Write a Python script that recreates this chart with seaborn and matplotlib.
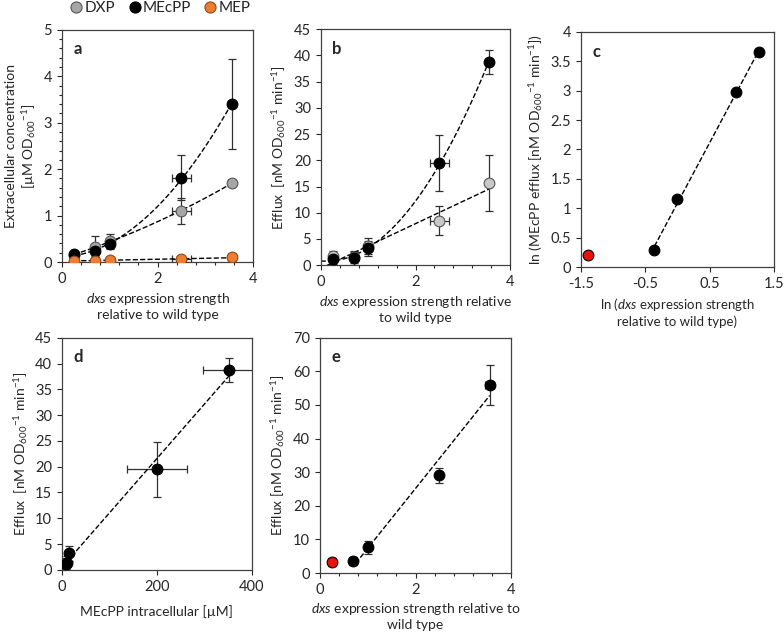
import numpy as np
import pandas as pd
import matplotlib
matplotlib.use("Agg")
import matplotlib.pyplot as plt
import seaborn as sns
from matplotlib.ticker import MultipleLocator
from matplotlib.lines import Line2D

# ---------------------------------------------------------------
# DATA
# ---------------------------------------------------------------
dxs = [0.25, 0.7, 1.0, 2.5, 3.55]
dxs_err = [0.0, 0.0, 0.0, 0.2, 0.07]

# panel a - extracellular concentration
conc_dxp = [0.15, 0.33, 0.45, 1.1, 1.7]
conc_dxp_err = [0.05, 0.22, 0.15, 0.28, 0.05]
conc_mecpp = [0.17, 0.23, 0.38, 1.82, 3.4]
conc_mecpp_err = [0.05, 0.1, 0.1, 0.48, 0.97]
conc_mep = [0.03, 0.03, 0.04, 0.06, 0.1]
conc_mep_err = [0.01, 0.01, 0.01, 0.01, 0.01]

# panel b - efflux
eff_dxp = [1.7, 1.5, 3.7, 8.5, 15.7]
eff_dxp_err = [1.1, 1.0, 1.5, 2.8, 5.4]
eff_mecpp = [1.23, 1.34, 3.2, 19.5, 38.8]
eff_mecpp_err = [1.0, 1.3, 1.5, 5.3, 2.3]

# panel d - intracellular MEcPP
intra_mecpp = [8, 10, 14, 200, 353]
intra_mecpp_err = [0, 0, 0, 63, 55]

# panel e - efflux (second data set)
eff2_x = [0.25, 0.7, 1.0, 2.5, 3.55]
eff2_y = [3.3, 3.6, 7.6, 29.1, 55.9]
eff2_err = [1.2, 1.3, 2.0, 2.2, 6.0]
eff2_xerr = [0.0, 0.0, 0.0, 0.0, 0.1]

series_names = ["DXP", "MEcPP", "MEP"]

GRAY = "#a6a6a6"
ORANGE = "#ed7d31"
RED = "#e8120c"

sns.set_style("ticks")
plt.rcParams["font.family"] = ["Lato", "DejaVu Sans"]
plt.rcParams["mathtext.fontset"] = "custom"
plt.rcParams["mathtext.rm"] = "Lato"
plt.rcParams["mathtext.it"] = "Lato:italic"
plt.rcParams["font.size"] = 10

fig = plt.figure(figsize=(7.84, 6.36), dpi=100)

UNIT = r"[nM OD$_{600}$$^{-1}$ min$^{-1}$]"
XLAB = r"$\it{dxs}$ expression strength"
LBL = 10


def style_ax(ax, letter, xminor=None, yminor=None):
    for s in ax.spines.values():
        s.set_visible(True)
        s.set_color("#404040")
        s.set_linewidth(0.9)
    ax.tick_params(which="major", direction="out", length=3.5, width=0.8, labelsize=10.5)
    ax.tick_params(which="minor", direction="out", length=2, width=0.8)
    if xminor:
        ax.xaxis.set_minor_locator(MultipleLocator(xminor))
    if yminor:
        ax.yaxis.set_minor_locator(MultipleLocator(yminor))
    ax.text(0.06, 0.95, letter, transform=ax.transAxes, fontsize=12,
            fontweight="bold", va="top", ha="left")


def points(ax, x, y, yerr, xerr, color, edge="black"):
    ax.errorbar(x, y, yerr=yerr, xerr=xerr, fmt="none", ecolor="#303030",
                elinewidth=0.9, capsize=3, capthick=0.9, zorder=2)
    df = pd.DataFrame({"x": x, "y": y})
    sns.scatterplot(data=df, x="x", y="y", ax=ax, color=color, edgecolor=edge,
                    linewidth=0.8, s=60, zorder=3, legend=False)


def poly_fit(ax, x, y, x0, x1, deg):
    coef = np.polyfit(x, y, deg)
    xs = np.linspace(x0, x1, 100)
    ax.plot(xs, np.polyval(coef, xs), ls="--", color="black", lw=1.0, zorder=2.5)


# ---------------------------------------------------------------
# PANEL A
# ---------------------------------------------------------------
ax = fig.add_axes([0.079, 0.588, 0.244, 0.365])
poly_fit(ax, dxs, conc_dxp, 0.25, 3.55, 2)
poly_fit(ax, dxs, conc_mecpp, 0.25, 3.55, 2)
poly_fit(ax, dxs, conc_mep, 0.25, 3.55, 1)
points(ax, dxs, conc_dxp, conc_dxp_err, dxs_err, GRAY, "#555555")
points(ax, dxs, conc_mecpp, conc_mecpp_err, dxs_err, "black")
points(ax, dxs, conc_mep, conc_mep_err, dxs_err, ORANGE, "#8a4a1a")
ax.set_xlim(0, 4)
ax.set_ylim(0, 5)
ax.set_xticks([0, 2, 4])
ax.set_yticks([0, 1, 2, 3, 4, 5])
ax.set_xlabel(XLAB + "\nrelative to wild type", fontsize=LBL)
ax.set_ylabel("Extracellular concentration\n" + r"[µM OD$_{600}$$^{-1}$]", fontsize=LBL)
style_ax(ax, "a", 0.4, 0.2)

# legend
handles = [Line2D([], [], ls="none", marker="o", markersize=8, markerfacecolor=c,
                  markeredgecolor=e, markeredgewidth=0.8)
           for c, e in [(GRAY, "#555555"), ("black", "black"), (ORANGE, "#8a4a1a")]]
fig.legend(handles, series_names, loc="center",
           bbox_to_anchor=(161 / 784, 1 - 8 / 636), ncol=3, frameon=False,
           fontsize=11, handlelength=0.7, handletextpad=0.2, columnspacing=0.9,
           borderpad=0.0)

# ---------------------------------------------------------------
# PANEL B
# ---------------------------------------------------------------
ax = fig.add_axes([0.409, 0.583, 0.242, 0.371])
poly_fit(ax, dxs, eff_dxp, 0.0, 3.55, 1)
poly_fit(ax, dxs, eff_mecpp, 0.0, 3.55, 2)
points(ax, dxs, eff_dxp, eff_dxp_err, dxs_err, "#c8c8c8", "#555555")
points(ax, dxs, eff_mecpp, eff_mecpp_err, dxs_err, "black")
ax.set_xlim(0, 4)
ax.set_ylim(0, 45)
ax.set_xticks([0, 2, 4])
ax.set_yticks(range(0, 46, 5))
ax.set_xlabel(XLAB + " relative\nto wild type", fontsize=LBL)
ax.set_ylabel("Efflux  " + UNIT, fontsize=LBL)
style_ax(ax, "b", 0.4)

# ---------------------------------------------------------------
# PANEL C
# ---------------------------------------------------------------
ax = fig.add_axes([0.741, 0.580, 0.246, 0.370])
ln_x = np.log(dxs)
ln_y = np.log(eff_mecpp)
poly_fit(ax, ln_x[1:], ln_y[1:], ln_x[1], ln_x[-1], 1)
points(ax, ln_x[1:], ln_y[1:], None, None, "black")
points(ax, ln_x[:1], ln_y[:1], None, None, RED)
ax.set_xlim(-1.5, 1.5)
ax.set_ylim(0, 4)
ax.set_xticks([-1.5, -0.5, 0.5, 1.5])
ax.set_xticklabels(["-1.5", "-0.5", "0.5", "1.5"])
ax.set_yticks(np.arange(0, 4.01, 0.5))
ax.set_yticklabels(["0", "0.5", "1", "1.5", "2", "2.5", "3", "3.5", "4"])
ax.set_xlabel(r"ln ($\it{dxs}$ expression strength" + "\nrelative to wild type)", fontsize=9.5)
ax.set_ylabel("ln (MEcPP efflux " + UNIT + ")", fontsize=LBL)
style_ax(ax, "c")

# ---------------------------------------------------------------
# PANEL D
# ---------------------------------------------------------------
ax = fig.add_axes([0.079, 0.104, 0.242, 0.365])
poly_fit(ax, intra_mecpp, eff_mecpp, 20, 353, 1)
points(ax, intra_mecpp, eff_mecpp, eff_mecpp_err, intra_mecpp_err, "black")
ax.set_xlim(0, 400)
ax.set_ylim(0, 45)
ax.set_xticks([0, 200, 400])
ax.set_yticks(range(0, 46, 5))
ax.set_xlabel("MEcPP intracellular [µM]", fontsize=LBL, labelpad=8)
ax.set_ylabel("Efflux  " + UNIT, fontsize=LBL)
style_ax(ax, "d")

# ---------------------------------------------------------------
# PANEL E
# ---------------------------------------------------------------
ax = fig.add_axes([0.408, 0.099, 0.244, 0.370])
poly_fit(ax, eff2_x[1:], eff2_y[1:], 0.75, 3.55, 1)
points(ax, eff2_x[1:], eff2_y[1:], eff2_err[1:], eff2_xerr[1:], "black")
points(ax, eff2_x[:1], eff2_y[:1], eff2_err[:1], None, RED)
ax.set_xlim(0, 4)
ax.set_ylim(0, 70)
ax.set_xticks([0, 2, 4])
ax.set_yticks(range(0, 71, 10))
ax.set_xlabel(XLAB + " relative to\nwild type", fontsize=LBL, labelpad=3)
ax.set_ylabel("Efflux " + UNIT, fontsize=LBL)
style_ax(ax, "e", 0.4)

fig.savefig("out.png", dpi=100)
